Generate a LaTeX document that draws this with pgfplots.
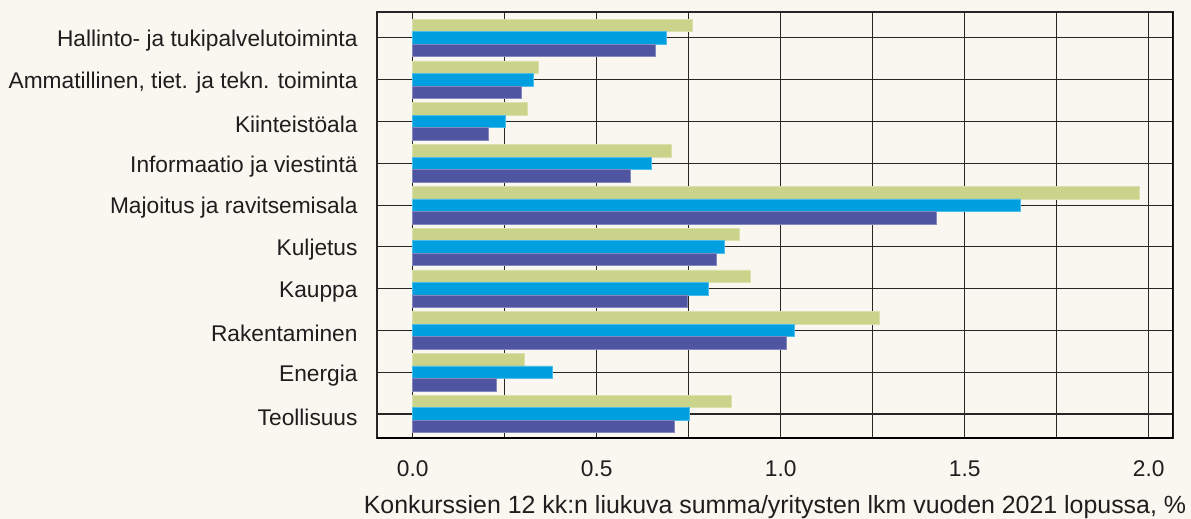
\documentclass[border=0pt]{standalone}
\usepackage{fontspec}
\setmainfont{Liberation Sans}
\usepackage{pgfplots}
\pgfplotsset{compat=1.18}
\definecolor{bg}{RGB}{250,246,240}
\definecolor{cgreen}{RGB}{201,212,138}
\definecolor{ccyan}{RGB}{0,160,224}
\definecolor{cdark}{RGB}{79,85,160}
\definecolor{txt}{RGB}{30,30,30}
\begin{document}
\fontsize{22}{26}\selectfont
\begin{tikzpicture}
\fill[bg,use as bounding box] (-377bp,-81bp) rectangle (814bp,438bp);
\begin{axis}[
 at={(0,0)}, anchor=south west,
 scale only axis, width=796bp, height=426bp,
 xmin=-0.097, xmax=2.066,
 ymin=-0.574, ymax=9.62,
 xbar, bar width=12.5bp,
 xtick={0,0.5,1,1.5,2},
 minor xtick={0.25,0.75,1.25,1.75},
 ytick={0,...,9},
 yticklabels={Teollisuus,Energia,Rakentaminen,Kauppa,Kuljetus,Majoitus ja ravitsemisala,Informaatio ja viestintä,Kiinteistöala,{Ammatillinen, tiet. ja tekn. toiminta},Hallinto- ja tukipalvelutoiminta},
 grid=both,
 major grid style={line width=1.1bp, black!85},
 minor grid style={line width=1.1bp, black!85},
 major tick length=0pt, minor tick length=0pt,
 axis line style={line width=1.3bp, black!85},
 /pgf/number format/assume math mode=true,
 tick label style={font=\fontsize{22.8}{26}\selectfont, text=txt},
 xticklabel style={/pgf/number format/fixed, /pgf/number format/fixed zerofill, /pgf/number format/precision=1, yshift=-15bp},
 yticklabel style={xshift=-12bp, yshift=-3bp},
 xlabel={Konkurssien 12 kk:n liukuva summa/yritysten lkm vuoden 2021 lopussa, \%},
 xlabel style={at={(rel axis cs:0.5,0)}, anchor=center, yshift=-69bp, font=\fontsize{25}{28}\selectfont, text=txt},
 axis background/.style={fill=bg},
]
\addplot[fill=cgreen, draw=cgreen!70!white, line width=0.6bp, bar shift=12.5bp] coordinates {
 (0.865,0) (0.303,1) (1.268,2) (0.917,3) (0.888,4) (1.975,5) (0.703,6) (0.311,7) (0.342,8) (0.759,9)};
\addplot[fill=ccyan, draw=ccyan!70!white, line width=0.6bp, bar shift=0bp] coordinates {
 (0.752,0) (0.378,1) (1.036,2) (0.803,3) (0.847,4) (1.650,5) (0.649,6) (0.252,7) (0.329,8) (0.688,9)};
\addplot[fill=cdark, draw=cdark!70!white, line width=0.6bp, bar shift=-12.5bp] coordinates {
 (0.711,0) (0.228,1) (1.014,2) (0.745,3) (0.825,4) (1.422,5) (0.592,6) (0.205,7) (0.294,8) (0.658,9)};
\draw[line width=3bp, black] (rel axis cs:0,0) -- (rel axis cs:1,0) -- (rel axis cs:1,1);
\end{axis}
\end{tikzpicture}
\end{document}
